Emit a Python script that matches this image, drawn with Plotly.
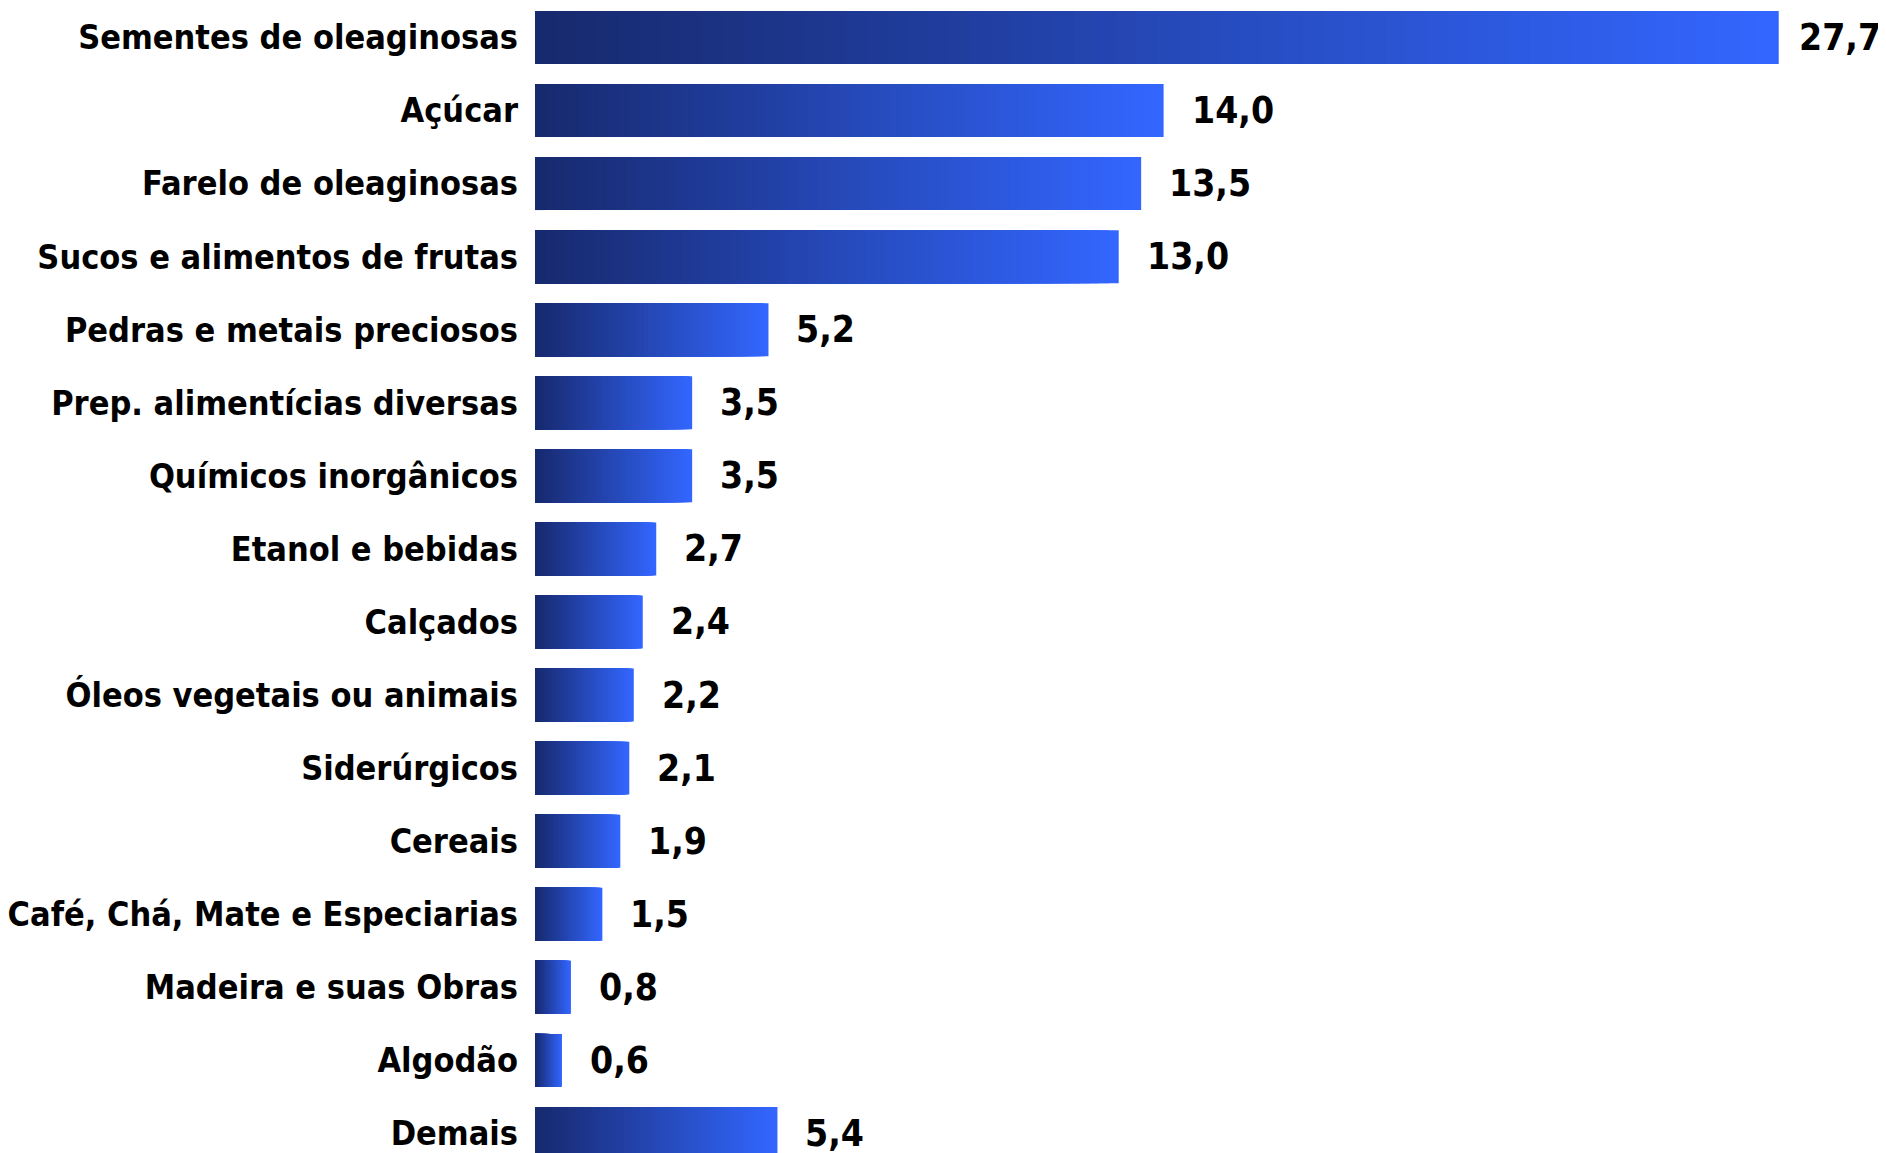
import plotly.graph_objects as go

categories = [
    "Sementes de oleaginosas", "Açúcar", "Farelo de oleaginosas",
    "Sucos e alimentos de frutas", "Pedras e metais preciosos",
    "Prep. alimentícias diversas", "Químicos inorgânicos", "Etanol e bebidas",
    "Calçados", "Óleos vegetais ou animais", "Siderúrgicos", "Cereais",
    "Café, Chá, Mate e Especiarias", "Madeira e suas Obras", "Algodão", "Demais",
]
values = [27.7, 14.0, 13.5, 13.0, 5.2, 3.5, 3.5, 2.7, 2.4, 2.2, 2.1, 1.9, 1.5, 0.8, 0.6, 5.4]
value_labels = ["27,7", "14,0", "13,5", "13,0", "5,2", "3,5", "3,5", "2,7", "2,4",
                "2,2", "2,1", "1,9", "1,5", "0,8", "0,6", "5,4"]

FONT = "DejaVu Sans Condensed, DejaVu Sans, sans-serif"
dark = (0x17, 0x29, 0x6c)
light = (0x33, 0x66, 0xff)
N = 60

fig = go.Figure()
# gradient: overlay bars from full length (light) down to short (dark)
for k in range(N):
    frac = (N - k) / N
    c = tuple(int(round(dark[i] + (light[i] - dark[i]) * frac)) for i in range(3))
    fig.add_trace(go.Bar(
        y=categories,
        x=[v * frac for v in values],
        orientation="h",
        width=0.725,
        marker=dict(color="rgb(%d,%d,%d)" % c, line=dict(width=0)),
        hoverinfo="skip",
        showlegend=False,
    ))

vmax = max(values)
for cat, v, lab in zip(categories, values, value_labels):
    fig.add_annotation(
        x=v, y=cat, text="<b>%s</b>" % lab, showarrow=False,
        xanchor="left", yanchor="middle", xshift=18 if v == vmax else 26,
        font=dict(family=FONT, size=37, color="black"),
    )

fig.update_layout(
    width=1886, height=1153,
    margin=dict(l=523, r=12, t=0, b=0),
    barmode="overlay",
    plot_bgcolor="white", paper_bgcolor="white",
    xaxis=dict(range=[0, 30], visible=False, showgrid=False, zeroline=False),
    yaxis=dict(
        type="category", categoryorder="array", categoryarray=categories,
        range=[15.377, -0.403],
        showgrid=False, zeroline=False, showline=False, ticks="",
        ticklabelstandoff=16,
        tickfont=dict(family=FONT, size=34, color="black", weight="bold"),
    ),
)

fig.write_html("out.html")
